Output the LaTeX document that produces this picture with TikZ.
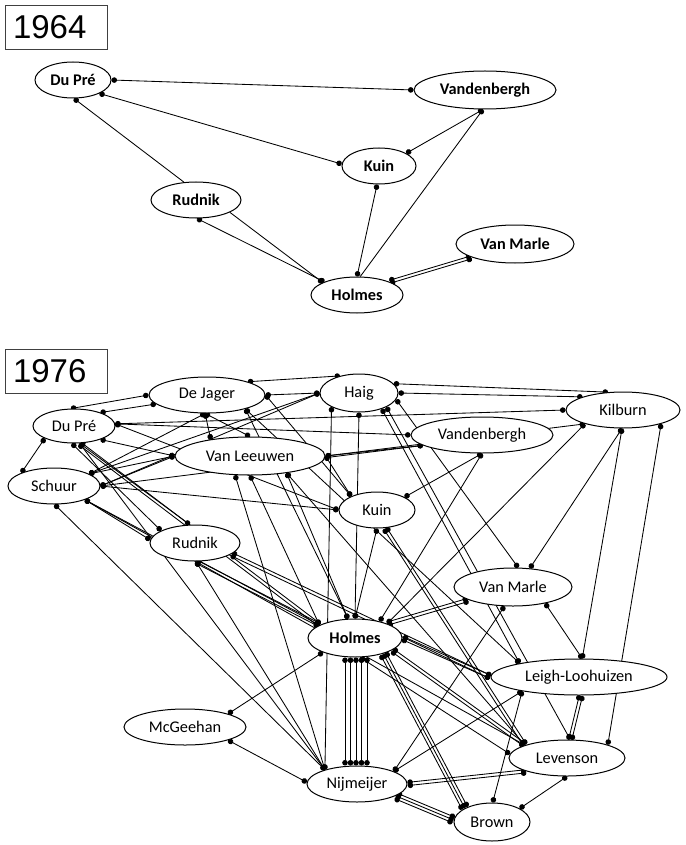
\documentclass[tikz,border=0pt]{standalone}
\usepackage{fontspec}
\setmainfont{Carlito}
\newfontfamily\yearfont{Liberation Sans}
\usetikzlibrary{shapes.geometric,arrows.meta,calc}
\pgfdeclarelayer{bg}
\pgfsetlayers{bg,main}
\tikzset{
 nd/.style={ellipse, draw=black, line width=1pt, fill=white, inner sep=0pt, font=\fontsize{16.3}{18}\selectfont},
 ndb/.style={nd, font=\fontsize{16.3}{18}\selectfont\bfseries},
 yearbox/.style={draw=black!75, line width=0.9pt, minimum height=44pt, text width=86pt, inner xsep=8pt, align=left, font=\yearfont\fontsize{33}{36}\selectfont},
 lnk/.style={line width=0.85pt, {Circle[length=5.5pt]}-{Circle[length=5.5pt]}},
 lnkS/.style={line width=0.85pt, {Circle[length=5.5pt]}-},
 lnkE/.style={line width=0.85pt, -{Circle[length=5.5pt]}},
}
\newcommand\plines[3]{\foreach \off in {#3}{\draw[lnk] ($(#1)!\off!90:(#2)$) -- ($(#2)!\off!-90:(#1)$);}}
\begin{document}
\begin{tikzpicture}[x=1pt,y=-1pt]
\useasboundingbox (0,0) rectangle (685,845);

% ---------- 1964 ----------
\node[yearbox] (y64) at (56,27) {1964};
\node[ndb, minimum width=76pt, minimum height=36pt] (a-DP) at (73,80) {Du Pré};
\node[ndb, minimum width=142pt, minimum height=38pt] (a-VB) at (485,90) {Vandenbergh};
\node[ndb, minimum width=74pt, minimum height=36pt] (a-KU) at (379,166) {Kuin};
\node[ndb, minimum width=90pt, minimum height=36pt] (a-RU) at (196,200) {Rudnik};
\node[ndb, minimum width=118pt, minimum height=38pt] (a-VM) at (515,244) {Van Marle};
\node[ndb, minimum width=92pt, minimum height=36pt] (a-HO) at (357,295) {Holmes};

\begin{pgfonlayer}{bg}
\draw[lnk] (a-DP.0) -- (a-VB.180);
\draw[lnk] (a-DP.-27) -- (a-KU.177);
\draw[lnkS] (a-DP.-87) -- (a-RU.124);
\draw[lnk] (a-VB.-96) -- (a-KU.25);
\draw[lnkS] (a-VB.-96) -- (a-HO.80);
\draw[lnk] (a-KU.-96) -- (a-HO.90);
\draw[lnk] (a-RU.-87) -- (a-HO.158);
\draw[lnkE] (a-RU.-20) -- (a-HO.160);
\plines{a-HO.22}{a-VM.-163}{-1.5pt,1.5pt}
\end{pgfonlayer}

% ---------- 1976 ----------
\node[yearbox] (y76) at (56,371.5) {1976};
\node[nd, minimum width=116pt, minimum height=36pt] (b-DJ) at (207,395) {De Jager};
\node[nd, minimum width=78pt, minimum height=38pt] (b-HA) at (359,393) {Haig};
\node[nd, minimum width=114pt, minimum height=36pt] (b-KI) at (623,410) {Kilburn};
\node[nd, minimum width=82pt, minimum height=34pt] (b-DP) at (74,426) {Du Pré};
\node[nd, minimum width=142pt, minimum height=36pt] (b-VB) at (482,435) {Vandenbergh};
\node[nd, minimum width=150pt, minimum height=38pt] (b-VL) at (250,456) {Van Leeuwen};
\node[nd, minimum width=92pt, minimum height=36pt] (b-SC) at (54,486) {Schuur};
\node[nd, minimum width=76pt, minimum height=36pt] (b-KU) at (377,510) {Kuin};
\node[nd, minimum width=90pt, minimum height=36pt] (b-RU) at (195,543) {Rudnik};
\node[nd, minimum width=118pt, minimum height=38pt] (b-VM) at (513,587) {Van Marle};
\node[ndb, minimum width=94pt, minimum height=38pt] (b-HO) at (355,638) {Holmes};
\node[nd, minimum width=176pt, minimum height=36pt] (b-LL) at (579,677) {Leigh-Loohuizen};
\node[nd, minimum width=122pt, minimum height=36pt] (b-MC) at (185,727) {McGeehan};
\node[nd, minimum width=116pt, minimum height=36pt] (b-LE) at (567,758) {Levenson};
\node[nd, minimum width=100pt, minimum height=36pt] (b-NI) at (357,784) {Nijmeijer};
\node[nd, minimum width=76pt, minimum height=38pt] (b-BR) at (492,822) {Brown};

\begin{pgfonlayer}{bg}
% upper cluster
\draw[lnk] (b-DP.100) -- (b-DJ.180);
\draw[lnk] (b-DP.27) -- (b-DJ.-170);
\draw[lnk] (b-DJ.0) -- (b-HA.180);
\draw[lnk] (b-DJ.18) -- (b-HA.138);
\draw[lnk] (b-HA.15) -- (b-KI.130);
\draw[lnk] (b-HA.0) -- (b-KI.162);
\draw[lnk] (b-DP.3) -- (b-KI.180);
\draw[lnk] (b-DP.3) -- (b-VB.180);
\draw[lnk] (b-DP.-27) -- (b-VL.180);
\draw[lnk] (b-DP.3) -- (b-KU.180);
\draw[lnk] (b-DP.-157) -- (b-SC.158);
\draw[lnk] (b-DJ.-96) -- (b-SC.19);
\draw[lnk] (b-DJ.-96) -- (b-VL.157);
\draw[lnk] (b-DJ.-96) -- (b-VL.90);
\draw[lnk] (b-SC.0) -- (b-VL.180);
\draw[lnk] (b-SC.19) -- (b-VL.180);
\draw[lnk] (b-SC.0) -- (b-HA.180);
\draw[lnk] (b-SC.19) -- (b-HA.180);
\draw[lnk] (b-SC.0) -- (b-VB.-170);
\draw[lnk] (b-SC.0) -- (b-KU.180);
\draw[lnk] (b-VL.0) -- (b-VB.-170);
\draw[lnk] (b-VL.0) -- (b-KI.-160);
\draw[lnk] (b-VL.0) -- (b-KU.152);
\draw[lnk] (b-DJ.0) -- (b-KU.152);
% Haig, Kilburn, Vandenbergh, Kuin
\draw[lnk] (b-HA.-90) -- (b-HO.90);
\draw[lnk] (b-HA.-153) -- (b-NI.156);
\draw[lnk] (b-HA.-35) -- (b-LL.167);
\draw[lnk] (b-HA.-10) -- (b-VM.75);
\draw[lnk] (b-HA.-27) -- (b-LE.80);
\draw[lnk] (b-KI.-160) -- (b-HO.24);
\draw[lnk] (b-KI.-93) -- (b-VM.48);
\draw[lnk] (b-KI.-93) -- (b-LL.80);
\draw[lnk] (b-KI.-20) -- (b-LE.18);
\draw[lnk] (b-VB.-90) -- (b-KU.25);
\draw[lnk] (b-VB.-90) -- (b-HO.34);
\draw[lnk] (b-KU.-90) -- (b-HO.90);
\plines{b-KU.-66}{b-LE.163}{-1.6pt,1.6pt}
% left side
\draw[lnk] (b-DP.-97) -- (b-RU.160);
\draw[lnk] (b-DP.-72) -- (b-RU.106);
\plines{b-DP.-72}{b-HO.160}{-1.6pt,1.6pt}
\draw[lnk] (b-DP.-72) -- (b-NI.156);
\draw[lnk] (b-SC.-88) -- (b-NI.156);
\draw[lnk] (b-SC.-24) -- (b-HO.160);
\draw[lnk] (b-SC.-24) -- (b-RU.176);
\draw[lnk] (b-SC.-24) -- (b-LE.163);
\plines{b-RU.-87}{b-HO.160}{-1.6pt,1.6pt}
\draw[lnk] (b-RU.-87) -- (b-NI.156);
\plines{b-RU.-17}{b-LL.180}{-1.6pt,1.6pt}
\draw[lnk] (b-VL.-128) -- (b-NI.156);
\draw[lnk] (b-VL.-90) -- (b-HO.160);
\draw[lnk] (b-VL.-25) -- (b-HO.110);
\draw[lnk] (b-VL.-25) -- (b-LE.163);
\draw[lnk] (b-DJ.-20) -- (b-LL.167);
\draw[lnk] (b-DJ.-20) -- (b-HO.110);
% Holmes and the lower group
\plines{b-HO.24}{b-VM.-164}{-1.6pt,1.6pt}
\draw[lnk] (b-VM.-114) -- (b-NI.19);
\draw[lnk] (b-VM.-27) -- (b-LL.80);
\plines{b-HO.0}{b-LL.180}{-1.6pt,1.6pt}
\plines{b-HO.-18}{b-LE.163}{-1.6pt,1.6pt}
\draw[lnk] (b-HO.-75) -- (b-LE.176);
\plines{b-HO.-29}{b-BR.153}{-3pt,0pt,3pt}
\foreach \dx in {-10,-4.5,1,6.5,12}
  \draw[lnk] ($(b-HO.south)+(\dx,0)$) -- ($(b-NI.north)+(\dx-2,0)$);
\draw[lnk] (b-HO.-156) -- (b-MC.17);
\draw[lnk] (b-MC.-17) -- (b-NI.178);
\plines{b-LL.-84}{b-LE.80}{-1.6pt,1.6pt}
\draw[lnk] (b-LL.-166) -- (b-BR.88);
\draw[lnk] (b-LL.-166) -- (b-NI.19);
\plines{b-NI.0}{b-LE.-162}{-1.6pt,1.6pt}
\plines{b-NI.-17}{b-BR.177}{-3pt,0pt,3pt}
\draw[lnk] (b-LE.-90) -- (b-BR.26);
\end{pgfonlayer}
\end{tikzpicture}
\end{document}
